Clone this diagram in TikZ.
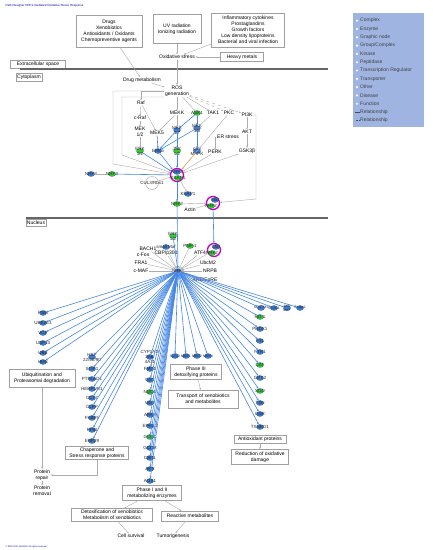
\documentclass[tikz,border=0pt]{standalone}
\usepackage{fontspec}
\setmainfont{Liberation Sans}
\usetikzlibrary{shapes.geometric,arrows.meta,positioning}
\definecolor{ipablue}{RGB}{60,125,215}
\definecolor{ipagreen}{RGB}{50,205,50}
\definecolor{edgeblue}{RGB}{70,135,230}
\definecolor{legendbg}{RGB}{160,180,225}
\definecolor{ringpink}{RGB}{200,0,200}

\begin{document}
\begin{tikzpicture}[x=1pt, y=-1pt,
    txt/.style={font=\fontsize{5}{6}\selectfont, align=center, inner sep=0.5pt},
    lbl/.style={font=\fontsize{4.5}{5}\selectfont, align=center, inner sep=0pt, text=black!85},
    box/.style={draw=gray!75, line width=0.5pt, fill=white, align=center,
                font=\fontsize{5}{6}\selectfont, inner sep=1pt},
    gene/.style={ellipse, fill=ipablue, draw=ipablue!60!black, line width=0.2pt,
                 minimum width=7pt, minimum height=5pt, inner sep=0pt,
                 label={[lbl]center:#1}},
    ggene/.style={gene=#1, fill=ipagreen, draw=ipagreen!50!black},
    sgene/.style={ellipse, fill=ipablue, draw=ipablue!60!black, line width=0.2pt,
                 minimum width=7pt, minimum height=5pt, inner sep=0pt,
                 label={[lbl, font=\fontsize{3.5}{4}\selectfont]center:#1}},
    ring/.style={circle, draw=ringpink, line width=1.3pt, minimum size=13pt, inner sep=0pt},
    cplx/.style={circle, draw=gray!60, line width=0.5pt, minimum size=13pt, inner sep=0pt,
                 label={[lbl]center:#1}},
    rel/.style={draw=gray!65, line width=0.4pt, -{Stealth[length=2pt,width=1.6pt]}},
    act/.style={draw=edgeblue, line width=0.6pt, -{Stealth[length=2.2pt,width=1.8pt]}},
    membrane/.style={draw=black!60, line width=1.4pt},
    lgd/.style={font=\fontsize{5}{6}\selectfont, text=black!75, anchor=west, inner sep=0pt}
]
    \useasboundingbox[fill=white] (0,0) rectangle (433,550);

    \node[font=\fontsize{3}{3.5}\selectfont, text=blue!70!black, anchor=west] (title) at (2,6)
        {Path Designer NRF2-mediated Oxidative Stress Response};

    % extracellular stimuli
    \node[box, minimum width=66pt, minimum height=32pt] (drugs) at (109,31)
        {Drugs\\Xenobiotics\\Antioxidants / Oxidants\\Chemopreventive agents};
    \node[box, minimum width=48pt, minimum height=29pt] (uvrad) at (177,29)
        {UV radiation\\Ionizing radiation};
    \node[box, minimum width=73pt, minimum height=34pt] (inflam) at (248,30)
        {Inflammatory cytokines\\Prostaglandins\\Growth factors\\Low density lipoproteins\\Bacterial and viral infection};
    \node[txt] (oxstress) at (177,57) {Oxidative stress};
    \node[box, minimum width=43pt, minimum height=9pt] (heavy) at (242,57) {Heavy metals};
    \node[box, minimum width=55pt, minimum height=8pt] (extra) at (38,64) {Extracellular space};
    \draw[membrane] (20,69) -- (328,69);
    \node[box, minimum height=8pt] (cyto) at (29,77) {Cytoplasm};

    % cytoplasm
    \node[txt] (drugmet) at (142,80) {Drug metabolism};
    \node[txt] (ros) at (177,91) {ROS\\generation};
    \node[txt] (raf) at (141,103) {Raf};
    \node[txt] (craf) at (140,118) {c-Raf};
    \node[txt] (mek12) at (140,132) {MEK\\1/2};
    \node[txt] (mek5) at (157,133) {MEK5};
    \node[txt] (mekk) at (177,113) {MEKK};
    \node[ggene=ASK1] (ask1) at (197,113) {};
    \node[txt] (tak1) at (213,113) {TAK1};
    \node[txt] (pkc) at (229,113) {PKC};
    \node[txt] (pi3k) at (247,115) {PI3K};
    \node[gene={MKK\\4/7}] (mkk47) at (177,130) {};
    \node[gene={MKK\\3/6}] (mkk36) at (197,128) {};
    \node[ggene={ERK\\1/2}] (erk12) at (140,151) {};
    \node[gene=ERK5] (erk5) at (158,151) {};
    \node[ggene={JNK\\1/2}] (jnk) at (177,151) {};
    \node[gene={p38\\MAPK}] (p38) at (197,151) {};
    \node[txt] (perk) at (215,152) {PERK};
    \node[txt] (erstress) at (228,137) {ER stress};
    \node[txt] (akt) at (247,132) {AKT};
    \node[txt] (gsk) at (247,151) {GSK3β};

    \node[ring] (keapcx) at (177,175) {};
    \node[gene=NRF2] (cxnrf) at (177,172) {};
    \node[ggene=KEAP1] (cxkeap) at (178,178) {};
    \node[cplx=CUL3/Rbx1] (cul3) at (152,183) {};
    \node[ggene=NRF2] (nrfa) at (112,174) {};
    \node[gene=NRF3] (nrfb) at (91,174) {};
    \node[gene=KEAP1] (keap1) at (188,194) {};
    \node[ggene=NRF2] (nrfc) at (177,204) {};
    \node[txt] (actin) at (190,210) {Actin};
    \node[ring] (ringb) at (213,203) {};
    \node[gene=Maf] (rbmaf) at (215,200) {};
    \node[ggene=NRF2] (rbnrf) at (211,206) {};

    \draw[rel] (drugs) -- (drugmet);
    \draw[rel] (uvrad) -- (oxstress);
    \draw[rel] (inflam) -- (oxstress);
    \draw[rel] (heavy) -- (oxstress);
    \draw[rel] (oxstress) -- (ros);
    \draw[rel] (drugmet) -- (ros);
    \draw[rel] (ros) -| (raf);
    \draw[rel] (ros) -- (mekk);
    \draw[rel] (ros) -- (ask1);
    \draw[rel] (ros) -- (tak1);
    \draw[rel, dashed] (ros) -- (pkc);
    \draw[rel, dashed] (ros) -- (pi3k);
    \draw[rel] (ros.west) -| (113,164) -- (keapcx);
    \draw[rel] (ros.south west) -| (122,155) -- (keapcx);
    \draw[rel] (pi3k.east) -| (256,199) -- (ringb);
    \draw[rel] (raf) -- (craf);
    \draw[rel] (craf) -- (mek12);
    \draw[rel] (mek12) -- (erk12);
    \draw[rel] (raf) -- (mek5);
    \draw[rel] (mekk) -- (mek5);
    \draw[rel] (mekk) -- (mkk47);
    \draw[rel] (tak1) -- (mkk36);
    \draw[act] (mek5) -- (erk5);
    \draw[act] (ask1) -- (mkk47);
    \draw[act] (ask1) -- (mkk36);
    \draw[act] (mkk47) -- (erk5);
    \draw[act] (mkk36) -- (erk5);
    \draw[act] (mkk47) -- (jnk);
    \draw[act] (mkk36) -- (p38);
    \draw[rel] (pi3k) -- (akt);
    \draw[rel] (akt) -- (gsk);
    \draw[rel] (erstress.west) -| (perk);
    \draw[rel] (pkc) -- (keapcx);
    \draw[rel] (gsk) -- (keapcx);
    \draw[rel] (perk) -- (keapcx);
    \draw[act] (erk12) -- (keapcx);
    \draw[act] (erk5) -- (keapcx);
    \draw[act] (jnk) -- (keapcx);
    \draw[rel, draw=orange!70] (p38) -- (keapcx);
    \draw[act] (keapcx) -- (nrfa);
    \draw[rel] (nrfa) -- (nrfb);
    \draw[rel] (keapcx) -- (cul3);
    \draw[rel] (keapcx) -- (keap1);
    \draw[act] (keapcx) -- (nrfc);
    \draw[rel] (nrfc) -- (ringb);
    \draw[rel] (actin) -- (ringb);

    % nucleus
    \draw[membrane] (26,218) -- (328,218);
    \node[box, minimum height=7pt] (nuc) at (36,223) {Nucleus};

    \node[gene=NRF2, draw=gray!70, line width=0.5pt] (nrfn) at (178,271) {};
    \node[ggene={ERK\\1/2}] (erkn) at (173,236) {};
    \node[txt] (bach1) at (148,249) {BACH1};
    \node[gene=small Maf] (smaf) at (166,247) {};
    \node[txt] (cbp) at (166,253) {CBP/p300};
    \node[ggene=PMF-1] (pmf) at (190,246) {};
    \node[txt] (atf4) at (200,253) {ATF4};
    \node[ring] (ringc) at (214,250) {};
    \node[gene=Maf] (rcmaf) at (216,247) {};
    \node[ggene=NRF2] (rcnrf) at (212,253) {};
    \node[txt] (cfos) at (143,255) {c-Fos};
    \node[txt] (fra1) at (141,263) {FRA1};
    \node[txt] (cmaf) at (141,271) {c-MAF};
    \node[txt] (ubcm2) at (208,263) {UbcM2};
    \node[txt] (nrpb) at (210,271) {NRPB};
    \node[txt] (are) at (205,280) {ARE/EpRE};

    \draw[act] (nrfc) -- (nrfn);
    \draw[act] (ringb) -- (ringc);
    \draw[act] (erkn) -- (nrfn);
    \foreach \g in {bach1, smaf, cbp, pmf, atf4, ringc, cfos, fra1, cmaf, ubcm2, nrpb, are}
        \draw[rel] (\g) -- (nrfn);

    % target genes
    \foreach \n/\y/\t/\c in {l1/313/PSM/ipablue, l2/323/UBE2E3/ipablue, l3/333/VCP/ipablue,
        l4/343/USP14/ipablue, l5/353/UBB/ipablue, l6/362/HMS/ipablue}
        \node[gene=\t, fill=\c] (\n) at (43,\y) {};
    \foreach \n/\y/\t/\c in {m1/357/{HSP\\22/40/90}/ipablue, m2/369/STIP1/ipablue,
        m3/379/PTPLAD1/ipablue, m4/389/HERPUD1/ipablue, m5/398/CCT7/ipablue,
        m6/407/CLPP/ipablue, m7/418/FKBP5/ipablue, m8/430/PPIB/ipablue, m9/441/ERP29/ipablue}
        \node[gene=\t, fill=\c] (\n) at (92,\y) {};
    \foreach \n/\y/\t/\c in {c1/357/{CYP1A1/\\2A6/\\4A11}/ipablue, c2/369/FMO1/ipablue,
        c3/380/GST/ipablue, c4/392/NQO1/ipagreen, c5/403/UGT/ipablue, c6/415/AFAR/ipablue,
        c7/426/EPHX1/ipablue, c8/437/GCLC/ipagreen, c9/448/GCLM/ipablue, c10/458/CBR1/ipablue,
        c11/469/AKR/ipablue, c12/481/AOX1/ipablue}
        \node[gene=\t, fill=\c] (\n) at (150,\y) {};
    \foreach \n/\x/\t in {p1/175/SLCO, p2/186/MRP1, p3/197/MRP2, p4/208/MRP4}
        \node[sgene=\t] (\n) at (\x,356) {};
    \foreach \n/\y/\t/\c in {r1/317/HO-1/ipagreen, r2/329/PRDX1/ipablue, r3/341/FTL/ipablue,
        r4/352/FTH1/ipablue, r5/365/CAT/ipagreen, r6/378/GPX2/ipablue, r7/391/SOD/ipagreen,
        r8/403/TXN/ipablue, r9/414/GSR/ipablue, r10/427/TXNRD1/ipablue}
        \node[gene=\t, fill=\c] (\n) at (260,\y) {};
    \foreach \n/\x/\t in {q1/261/SQSTM1, q2/274/SRXN1, q3/287/{AKR\\MAF}, q4/300/Gstpe2}
        \node[sgene=\t] (\n) at (\x,308) {};

    \foreach \p/\k in {l/6, m/9, c/12, p/4, r/10, q/4}
        \foreach \i in {1,...,\k}
            \draw[act] (nrfn) -- (\p\i);

    % functions
    \node[box, minimum width=66pt, minimum height=18pt] (ubiq) at (42,378)
        {Ubiquitination and\\Proteasomal degradation};
    \node[box, minimum width=63pt, minimum height=13pt] (chap) at (97,453)
        {Chaperone and\\Stress response proteins};
    \node[txt] (protrep) at (42,475) {Protein\\repair};
    \node[txt] (protrem) at (42,491) {Protein\\removal};
    \node[box, minimum width=51pt, minimum height=15pt] (phase3) at (196,372)
        {Phase III\\detoxifying proteins};
    \node[box, minimum width=70pt, minimum height=18pt] (transp) at (203,399)
        {Transport of xenobiotics\\and metabolites};
    \node[box, minimum width=52pt, minimum height=8pt] (antiox) at (260,439) {Antioxidant proteins};
    \node[box, minimum width=57pt, minimum height=15pt] (reduct) at (260,457)
        {Reduction of oxidative\\damage};
    \node[box, minimum width=59pt, minimum height=15pt] (phase12) at (152,493)
        {Phase I and II\\metabolizing enzymes};
    \node[box, minimum width=81pt, minimum height=13pt] (detox) at (112,515)
        {Detoxification of xenobiotics\\Metabolism of xenobiotics};
    \node[box, minimum width=57pt, minimum height=10pt] (reactive) at (190,516) {Reactive metabolites};
    \node[txt] (survival) at (131,536) {Cell survival};
    \node[txt] (tumor) at (173,536) {Tumorigenesis};

    \draw[rel] (ubiq) -- (protrep);
    \draw[rel] (chap) |- (protrep);
    \draw[rel] (protrep) -- (protrem);
    \draw[rel] (phase3) -- (transp);
    \draw[rel] (antiox) -- (reduct);
    \draw[rel] (phase12) -- (detox);
    \draw[rel] (phase12) -- (reactive);
    \draw[rel] (detox) -- (survival);
    \draw[rel] (reactive) -- (tumor);

    % legend
    \node[fill=legendbg, minimum width=71pt, minimum height=114pt, inner sep=0pt] (legend) at (388,70) {};
    \foreach \t [count=\i] in {Complex, Enzyme, Graphic node, Group/Complex, Kinase, Peptidase,
        Transcription Regulator, Transporter, Other, Disease, Function} {
        \node[circle, fill=white, minimum size=2.4pt, inner sep=0pt] (lgi\i) at (357,12.4+8.3*\i) {};
        \node[lgd] (lgt\i) at (360,12.4+8.3*\i) {\t};
    }
    \node[lgd] (lgt12) at (360,112) {Relationship};
    \node[lgd] (lgt13) at (360,120.3) {Relationship};
    \draw[black!70, line width=0.4pt] (lgt12.west) -- ++(-5,0);
    \draw[black!70, line width=0.4pt, dashed, dash pattern=on 1pt off 0.7pt] (lgt13.west) -- ++(-5,0);

    \node[font=\fontsize{2.2}{2.5}\selectfont, text=blue!70!black, anchor=west] (copy) at (2,547)
        {© 2000-2021 QIAGEN. All rights reserved.};
\end{tikzpicture}
\end{document}
